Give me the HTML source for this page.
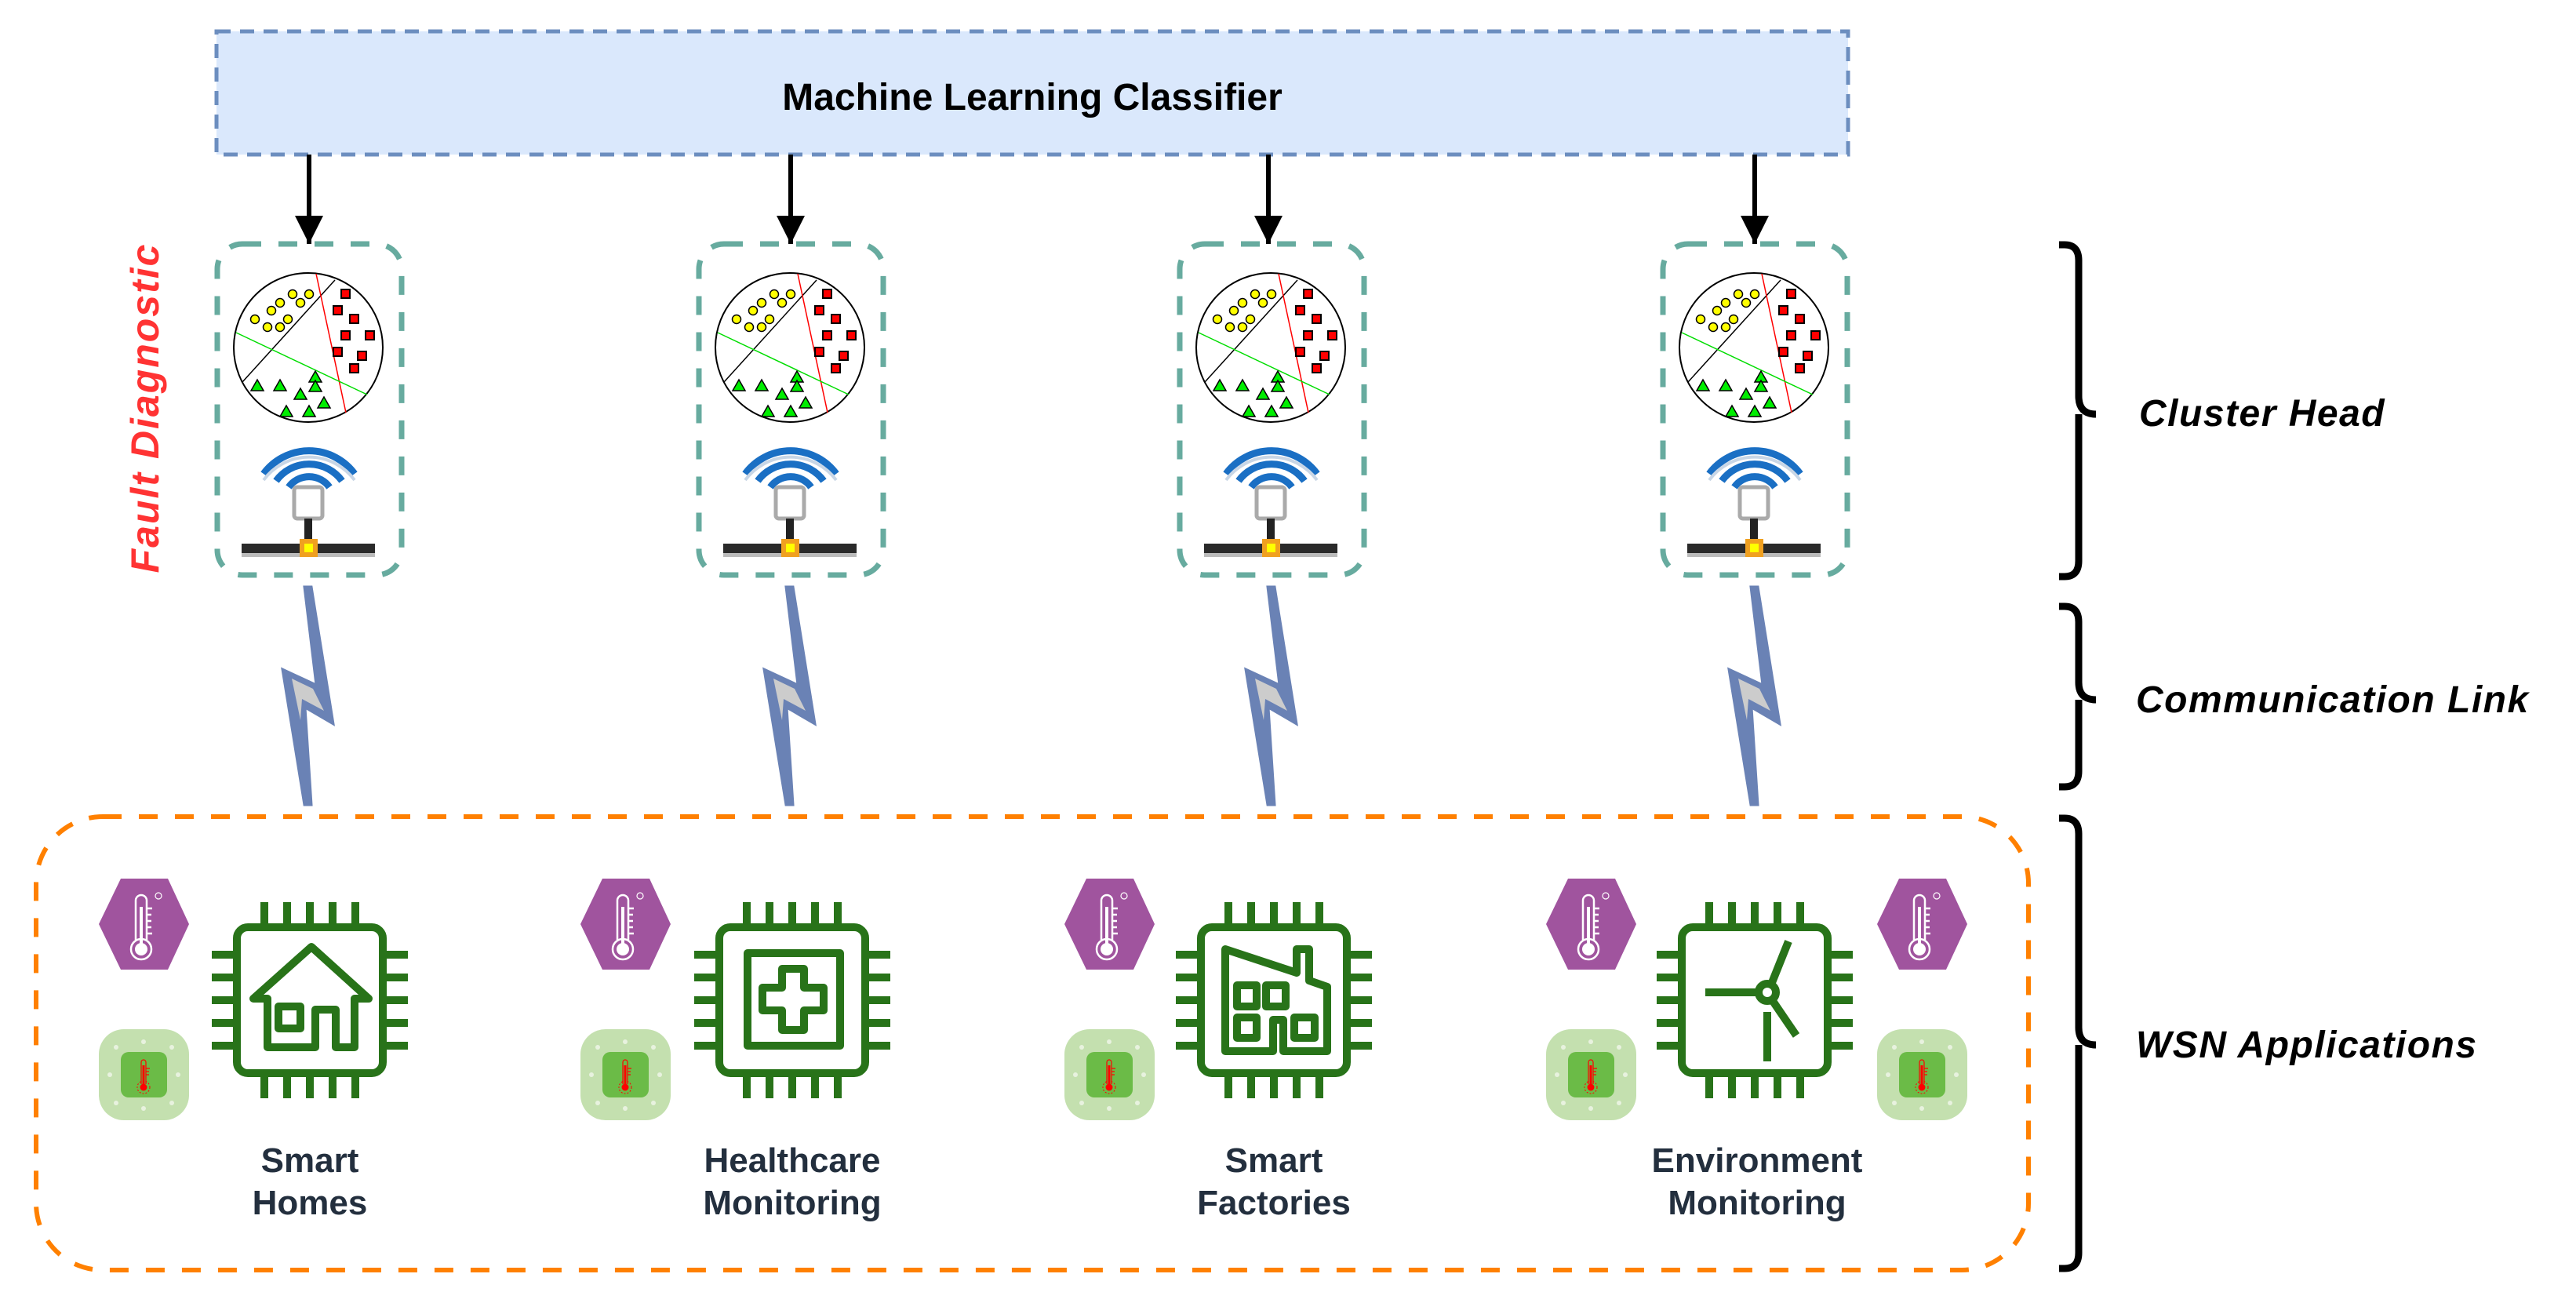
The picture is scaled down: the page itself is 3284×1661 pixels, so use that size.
<!DOCTYPE html>
<html><head><meta charset="utf-8"><style>
html,body{margin:0;padding:0;background:#fff}
svg{display:block}
text{font-family:"Liberation Sans",sans-serif}
</style></head><body>
<svg width="3284" height="1661" viewBox="0 0 3284 1661" xmlns="http://www.w3.org/2000/svg">
<defs>
<g id="ch">
  <rect x="-117" y="0" width="235" height="422" rx="32" fill="none" stroke="#67ab9f" stroke-width="7" stroke-dasharray="24 22"/>
  <circle cx="-1" cy="132" r="95" fill="#fff" stroke="#000" stroke-width="2"/>
  <line x1="33" y1="46" x2="-85" y2="176" stroke="#000" stroke-width="1.5"/>
  <line x1="9" y1="38" x2="47" y2="215" stroke="#f00" stroke-width="1.5"/>
  <line x1="-93" y1="113" x2="74" y2="192" stroke="#0d0" stroke-width="1.5"/>
  <g fill="#ff0" stroke="#000" stroke-width="1.5">
   <circle cx="-21" cy="64" r="5.5"/><circle cx="0" cy="64" r="5.5"/><circle cx="-37" cy="75" r="5.5"/><circle cx="-11" cy="75" r="5.5"/><circle cx="-48" cy="85" r="5.5"/><circle cx="-69" cy="96" r="5.5"/><circle cx="-27" cy="96" r="5.5"/><circle cx="-53" cy="106" r="5.5"/><circle cx="-37" cy="106" r="5.5"/>
  </g>
  <g fill="#f00" stroke="#000" stroke-width="2">
   <rect x="41" y="58" width="11" height="11"/><rect x="31" y="79" width="11" height="11"/><rect x="52" y="90" width="11" height="11"/><rect x="41" y="111" width="11" height="11"/><rect x="72" y="111" width="11" height="11"/><rect x="31" y="132" width="11" height="11"/><rect x="62" y="137" width="11" height="11"/><rect x="52" y="153" width="11" height="11"/>
  </g>
  <g fill="#0e0" stroke="#000" stroke-width="1.5">
   <path d="M-74 187l8-14 8 14z"/><path d="M-45 187l8-14 8 14z"/><path d="M0 176l8-14 8 14z"/><path d="M0 188l8-14 8 14z"/><path d="M-19 198l8-14 8 14z"/><path d="M11 209l8-14 8 14z"/><path d="M-37 220l8-14 8 14z"/><path d="M-8 220l8-14 8 14z"/>
  </g>
  <g fill="none" stroke-linecap="butt">
   <path d="M-58 315 A72 72 0 0 1 58 315" stroke="#1a6fc4" stroke-width="9" transform="translate(0,-22)"/>
   <path d="M-58 315 A72 72 0 0 1 58 315" stroke="#c8d6e6" stroke-width="4" transform="translate(0,-14)"/>
   <path d="M-42 318 A52 52 0 0 1 42 318" stroke="#1a6fc4" stroke-width="9" transform="translate(0,-16)"/>
   <path d="M-26 322 A32 32 0 0 1 26 322" stroke="#1a6fc4" stroke-width="9" transform="translate(0,-12)"/>
  </g>
  <rect x="-19" y="310" width="36" height="40" rx="4" fill="#fff" stroke="#aaa" stroke-width="5"/>
  <rect x="-6" y="350" width="10" height="38" fill="#222"/>
  <rect x="-86" y="382" width="170" height="12" fill="#2a2a2a"/>
  <rect x="-86" y="394" width="170" height="5" fill="#bbb"/>
  <rect x="-12" y="376" width="23" height="23" fill="#f0a020"/>
  <rect x="-6" y="382" width="11" height="11" fill="#ff0"/>
</g>
<g id="bolt">
  <polygon points="-5,0 4,0 32,175 -4,154 4,278 -5,278 -33,105 10,125" fill="#6a82b5" stroke="#6a82b5" stroke-width="3" stroke-linejoin="miter"/>
  <polygon points="-21,117 6,130 20,158 -8,143 -10,170" fill="#cccccc"/>
</g>
<g id="chip">
  <rect x="-93" y="-93" width="186" height="186" rx="14" fill="#fff" stroke="#287319" stroke-width="10"/>
  <g fill="#287319">
   <rect x="-63" y="-125" width="10" height="27"/><rect x="-34" y="-125" width="10" height="27"/><rect x="-5" y="-125" width="10" height="27"/><rect x="24" y="-125" width="10" height="27"/><rect x="53" y="-125" width="10" height="27"/>
   <rect x="-63" y="98" width="10" height="27"/><rect x="-34" y="98" width="10" height="27"/><rect x="-5" y="98" width="10" height="27"/><rect x="24" y="98" width="10" height="27"/><rect x="53" y="98" width="10" height="27"/>
   <rect x="-125" y="-63" width="27" height="10"/><rect x="-125" y="-34" width="27" height="10"/><rect x="-125" y="-5" width="27" height="10"/><rect x="-125" y="24" width="27" height="10"/><rect x="-125" y="53" width="27" height="10"/>
   <rect x="98" y="-63" width="27" height="10"/><rect x="98" y="-34" width="27" height="10"/><rect x="98" y="-5" width="27" height="10"/><rect x="98" y="24" width="27" height="10"/><rect x="98" y="53" width="27" height="10"/>
  </g>
</g>
<g id="hex">
  <polygon points="-29,-58 31,-58 58,0 31,58 -29,58 -57,0" fill="#a0549e"/>
  <g fill="none" stroke="#fff" stroke-width="2.5">
   <path d="M-10 20 V-30 a7 7 0 0 1 14 0 V20"/>
   <circle cx="-3" cy="32" r="13"/>
   <path d="M4 -20h7M4 -12h6M4 -4h6M4 4h6M4 12h7"/>
  </g>
  <rect x="-5" y="-22" width="4" height="48" fill="#fff"/>
  <circle cx="-3" cy="32" r="8" fill="#fff"/>
  <circle cx="19" cy="-36" r="4" fill="none" stroke="#fff" stroke-width="1.2"/>
</g>
<g id="sen">
  <rect x="-57" y="-58" width="115" height="116" rx="32" fill="#c4e0af"/>
  <rect x="-29" y="-29" width="59" height="58" rx="10" fill="#6bbb47"/>
  <g fill="#e8f2df"><circle cx="-35" cy="-35" r="3"/><circle cx="0" cy="-42" r="3"/><circle cx="36" cy="-35" r="3"/><circle cx="-43" cy="0" r="3"/><circle cx="44" cy="0" r="3"/><circle cx="-35" cy="36" r="3"/><circle cx="0" cy="43" r="3"/><circle cx="36" cy="36" r="3"/></g>
  <path d="M-3 12 V-16 a3 3 0 0 1 6 0 V12" fill="none" stroke="#f00" stroke-width="1.2"/>
  <rect x="-1.5" y="-12" width="3" height="24" fill="#f00"/>
  <path d="M3 -8h5M3 -4h4M3 0h4" stroke="#f00" stroke-width="1.2"/>
  <circle cx="0" cy="16" r="4.5" fill="#f00"/>
  <circle cx="0" cy="16" r="8" fill="none" stroke="#f00" stroke-width="1" stroke-dasharray="2 2"/>
</g>
<marker id="ah" viewBox="0 0 10 10" refX="10" refY="5" markerWidth="6" markerHeight="6" orient="auto" markerUnits="strokeWidth"><path d="M0 0L10 5L0 10z" fill="#000"/></marker>
</defs>

<!-- ML classifier -->
<rect x="276" y="40" width="2080" height="157" fill="#dae8fc" stroke="#6c8ebf" stroke-width="5" stroke-dasharray="18 12"/>
<text x="1316" y="140" font-size="48" font-weight="bold" text-anchor="middle" fill="#000">Machine Learning Classifier</text>

<!-- arrows -->
<g stroke="#000" stroke-width="6">
 <line x1="394" y1="197" x2="394" y2="311" marker-end="url(#ah)"/>
 <line x1="1008" y1="197" x2="1008" y2="311" marker-end="url(#ah)"/>
 <line x1="1617" y1="197" x2="1617" y2="311" marker-end="url(#ah)"/>
 <line x1="2237" y1="197" x2="2237" y2="311" marker-end="url(#ah)"/>
</g>

<!-- cluster heads -->
<use href="#ch" transform="translate(394,311)"/>
<use href="#ch" transform="translate(1008,311)"/>
<use href="#ch" transform="translate(1621,311)"/>
<use href="#ch" transform="translate(2237,311)"/>

<!-- bolts -->
<use href="#bolt" transform="translate(393,748)"/>
<use href="#bolt" transform="translate(1007,748)"/>
<use href="#bolt" transform="translate(1621,748)"/>
<use href="#bolt" transform="translate(2237,748)"/>

<!-- fault diagnostic -->
<text transform="translate(202,520) rotate(-90)" font-size="50" font-weight="bold" font-style="italic" fill="#ff3333" text-anchor="middle" letter-spacing="2">Fault Diagnostic</text>

<!-- WSN box -->
<rect x="46" y="1041" width="2540" height="578" rx="85" fill="none" stroke="#ff8000" stroke-width="6" stroke-dasharray="24 22"/>

<!-- chips -->
<use href="#chip" transform="translate(395,1275)"/>
<use href="#chip" transform="translate(1010,1275)"/>
<use href="#chip" transform="translate(1624,1275)"/>
<use href="#chip" transform="translate(2237,1275)"/>

<g fill="none" stroke="#287319" stroke-width="10" stroke-linejoin="round" stroke-linecap="round">
 <g transform="translate(395,1275)">
  <path d="M-72 -2 L2 -68 L75 -2 H57 V60 H33 V12 H7 V60 H-54 V-2 Z"/>
  <rect x="-40" y="8" width="28" height="28"/>
 </g>
 <g transform="translate(1011,1274)">
  <rect x="-58" y="-59" width="118" height="118"/>
  <path d="M-14 -39 H14 V-15 H39 V14 H14 V39 H-14 V14 H-39 V-15 H-14 Z"/>
 </g>
 <g transform="translate(1624,1275)">
  <path d="M-62 65 V-65 L29 -35 V-65 H45 V-25 L68 -17 V65 H12 V25 H-1 V65 Z"/>
  <rect x="-47" y="-19" width="25" height="27"/><rect x="-10" y="-19" width="25" height="27"/>
  <rect x="-47" y="22" width="25" height="26"/><rect x="26" y="22" width="26" height="26"/>
 </g>
 <g transform="translate(2237,1275)">
  <circle cx="16" cy="-10" r="11"/>
  <path d="M5 -10 H-63 M21 -20 L43 -75 M23 1 L53 45 M16 15 V78" stroke-linecap="butt"/>
 </g>
</g>

<!-- sensors -->
<use href="#hex" transform="translate(183,1178)"/>
<use href="#sen" transform="translate(183,1370)"/>
<use href="#hex" transform="translate(797,1178)"/>
<use href="#sen" transform="translate(797,1370)"/>
<use href="#hex" transform="translate(1414,1178)"/>
<use href="#sen" transform="translate(1414,1370)"/>
<use href="#hex" transform="translate(2028,1178)"/>
<use href="#sen" transform="translate(2028,1370)"/>
<use href="#hex" transform="translate(2450,1178)"/>
<use href="#sen" transform="translate(2450,1370)"/>

<!-- labels -->
<g font-size="44" font-weight="bold" fill="#232f3e" text-anchor="middle">
 <text x="395" y="1494">Smart</text><text x="395" y="1548">Homes</text>
 <text x="1010" y="1494">Healthcare</text><text x="1010" y="1548">Monitoring</text>
 <text x="1624" y="1494">Smart</text><text x="1624" y="1548">Factories</text>
 <text x="2240" y="1494">Environment</text><text x="2240" y="1548">Monitoring</text>
</g>

<!-- braces -->
<g fill="none" stroke="#000" stroke-width="9" stroke-linecap="butt">
 <path d="M2625 312 H2632 Q2650 312 2650 332 V505 Q2650 528 2672 528 M2650 528 Q2650 551 2650 551 V715 Q2650 735 2632 735 H2625"/>
 <path d="M2625 773 H2632 Q2650 773 2650 793 V870 Q2650 892 2672 892 M2650 892 V983 Q2650 1003 2632 1003 H2625"/>
 <path d="M2625 1043 H2632 Q2650 1043 2650 1063 V1310 Q2650 1332 2672 1332 M2650 1332 V1597 Q2650 1617 2632 1617 H2625"/>
</g>
<g font-size="48" font-weight="bold" font-style="italic" fill="#000" letter-spacing="1.5">
 <text x="2727" y="543">Cluster Head</text>
 <text x="2723" y="908">Communication Link</text>
 <text x="2723" y="1348">WSN Applications</text>
</g>
</svg>
</body></html>
